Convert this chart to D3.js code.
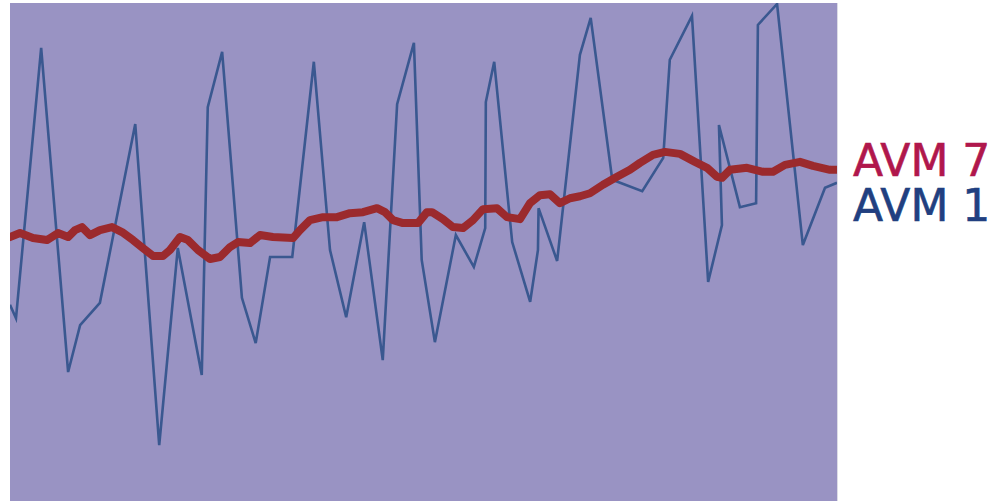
<!DOCTYPE html>
<html><head><meta charset="utf-8">
<script src="https://cdn.jsdelivr.net/npm/d3@7"></script>
<style>html,body{margin:0;padding:0;background:#fff;}svg{display:block;}</style>
</head><body>
<svg id="chart" width="1002" height="501"></svg>
<script>
// AVM 1 series (day, value)
const avm1Days = [0,1.0,5.2,9.7,11.7,15.0,20.9,24.9,28.0,32.0,33.0,35.4,38.7,41.0,43.4,47.1,50.7,53.4,56.1,59.1,62.2,64.6,67.4,68.7,70.9,74.4,77.4,79.3,79.4,80.8,83.8,86.8,88.1,88.2,91.3,95.1,96.9,100.5,105.5,109.0,110.1,113.8,116.5,118.8,118.3,121.8,124.5,124.8,128.0,132.3,136.0,138.0];
const avm1Vals = [39.4,36.7,91.0,25.9,35.3,39.8,75.7,11.2,50.8,25.3,79.1,90.2,40.8,31.7,49.0,49.0,88.2,50.4,36.9,56.0,28.3,79.7,92.0,48.4,31.9,53.4,47.0,54.8,80.1,88.2,52.0,40.0,50.4,58.8,48.2,89.6,97.0,64.5,62.2,68.9,88.6,97.4,44.0,55.4,75.5,59.0,59.8,95.6,99.8,51.4,62.9,63.9];
// AVM 7 series (day, value)
const avm7Days = [0,1.67,3.84,6.17,8.01,9.68,10.85,12.01,13.35,15.02,17.02,18.69,20.52,22.19,23.86,25.53,26.70,28.37,29.70,31.37,33.37,35.04,36.71,38.04,40.05,41.71,43.88,47.22,48.39,50.06,52.23,54.56,56.73,58.90,61.24,62.57,63.91,65.58,68.08,69.58,70.42,72.25,73.92,75.59,77.26,78.93,81.26,82.93,85.10,86.77,88.44,90.11,91.77,93.44,95.11,96.78,98.95,101.29,103.45,105.12,107.29,109.29,111.80,114.30,116.31,117.97,118.81,120.14,122.98,125.65,127.32,129.32,131.82,133.99,136.83,138.0];
const avm7Vals = [53.0,53.8,52.8,52.4,53.8,53.0,54.4,55.0,53.4,54.4,55.0,54.0,52.4,50.8,49.2,49.2,50.4,53.0,52.4,50.4,48.6,49.0,51.0,52.0,51.8,53.4,53.0,52.8,54.4,56.4,57.0,57.0,57.8,58.0,58.8,58.0,56.4,55.8,55.8,58.0,58.0,56.6,55.0,54.8,56.4,58.6,58.8,57.0,56.6,59.8,61.4,61.6,59.8,60.8,61.2,61.8,63.5,65.1,66.5,67.9,69.5,70.1,69.7,68.1,66.9,65.1,64.9,66.5,66.9,66.1,66.1,67.5,68.1,67.3,66.5,66.5];
const seriesLabels = ["AVM 7", "AVM 1"];

const svg = d3.select("#chart");
const plot = {left: 10, right: 837, top: 3, bottom: 501};
const x = d3.scaleLinear().domain([0, 138]).range([plot.left, plot.right]);
const y = d3.scaleLinear().domain([0, 100]).range([plot.bottom, plot.top]);

svg.append("defs").append("clipPath").attr("id", "clip")
  .append("rect").attr("x", plot.left).attr("y", plot.top)
  .attr("width", plot.right - plot.left).attr("height", plot.bottom - plot.top);

svg.append("rect").attr("x", plot.left).attr("y", plot.top)
  .attr("width", plot.right - plot.left).attr("height", plot.bottom - plot.top)
  .attr("fill", "#9993c3");
svg.append("line").attr("x1", plot.right + 0.5).attr("x2", plot.right + 0.5)
  .attr("y1", plot.top).attr("y2", plot.bottom)
  .attr("stroke", "#dcdce6").attr("stroke-width", 1);

const g = svg.append("g").attr("clip-path", "url(#clip)");
const line = d3.line().x(d => x(d[0])).y(d => y(d[1]));

g.append("path").datum(avm1Days.map((d, i) => [d, avm1Vals[i]]))
  .attr("d", line).attr("fill", "none")
  .attr("stroke", "#3a5890").attr("stroke-width", 2.6).attr("stroke-linejoin", "miter");

g.append("path").datum(avm7Days.map((d, i) => [d, avm7Vals[i]]))
  .attr("d", line).attr("fill", "none")
  .attr("stroke", "#9b2a2d").attr("stroke-width", 8)
  .attr("stroke-linejoin", "round").attr("stroke-linecap", "round");

const labelColors = ["#b0174c", "#213f80"];
svg.selectAll("text.lbl").data(seriesLabels).join("text")
  .attr("class", "lbl")
  .attr("x", 853)
  .attr("y", (d, i) => 176 + i * 45)
  .attr("font-family", "DejaVu Sans, sans-serif")
  .attr("font-size", 44)
  .attr("fill", (d, i) => labelColors[i])
  .attr("stroke", (d, i) => labelColors[i])
  .attr("stroke-width", 0.6)
  .text(d => d);
</script>
</body></html>
